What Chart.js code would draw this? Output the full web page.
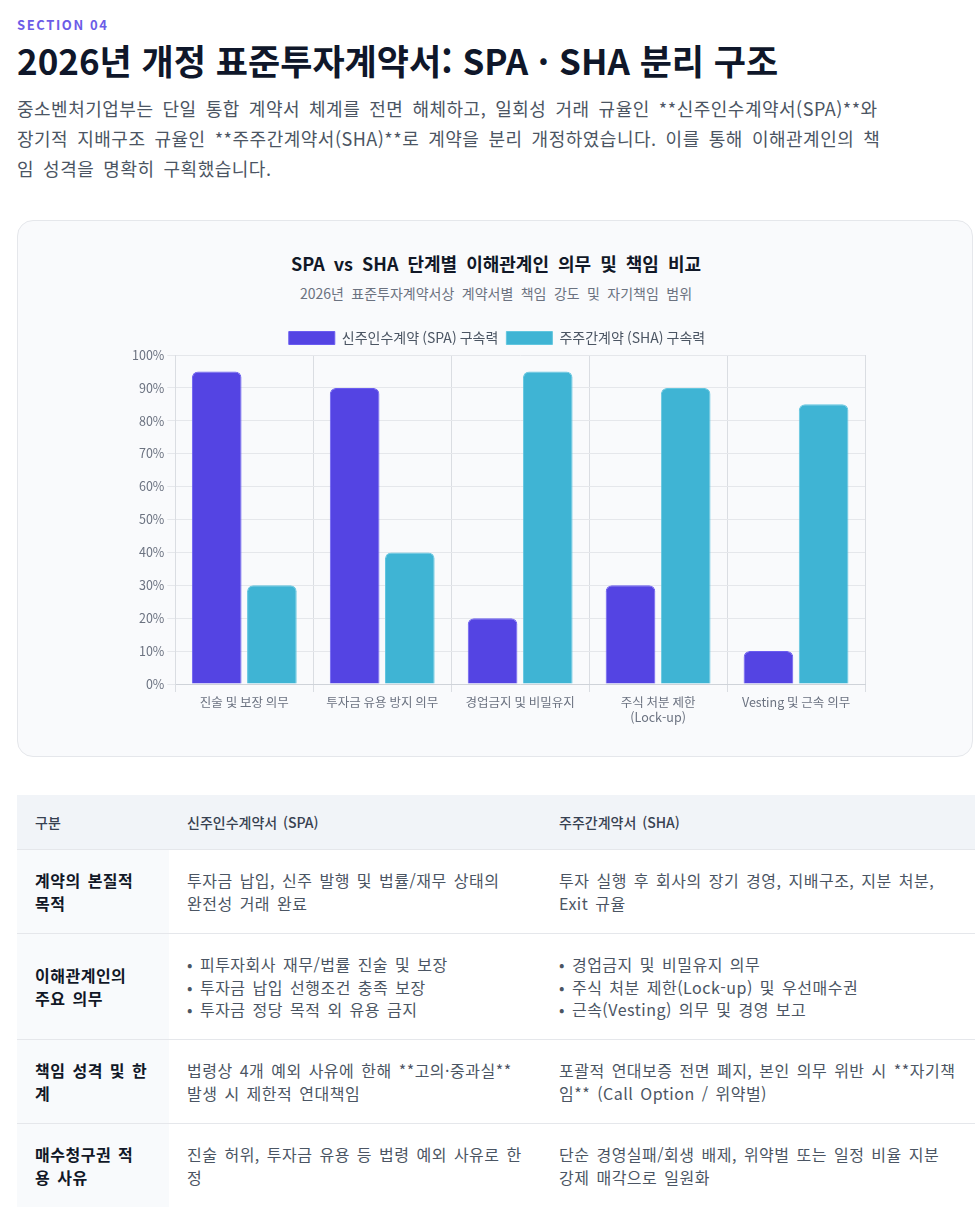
<!DOCTYPE html>
<html lang="ko">
<head>
<meta charset="utf-8">
<title>SPA · SHA 분리 구조</title>
<script src="https://cdn.jsdelivr.net/npm/chart.js@4.4.1/dist/chart.umd.min.js"></script>
<style>
  * { box-sizing: border-box; }
  html, body { overflow-x: hidden; }
  body { margin: 0; background: #fff; font-family: "Noto Sans CJK KR", "Noto Sans", sans-serif; color: #111827; }
  .wrap { padding-left: 17px; width: 975px; }
  .eyebrow { margin: 16px 0 0; font-size: 13px; font-weight: 700; letter-spacing: 1.6px; color: #6b5ce7; line-height: 18px; }
  h1 { margin: 5px 0 0; font-size: 35px; font-weight: 700; color: #0f172a; line-height: 42px; white-space: nowrap; }
  .lead { margin: 12px 0 0; font-size: 18px; line-height: 30px; color: #4b5563; letter-spacing: 0.5px; word-spacing: 3.5px; white-space: nowrap; }
  .card { margin-top: 37px; width: 956px; background: #f9fafc; border: 1px solid #e5e7eb; border-radius: 16px; padding: 31px 0 28px; }
  .chart-head { width: 742px; margin-left: 107px; text-align: center; }
  .chart-head h3 { margin: 0; font-size: 18px; line-height: 22px; font-weight: 700; color: #111827; word-spacing: 4px; }
  .chart-head p { margin: 10px 0 0; font-size: 14px; line-height: 18px; color: #6b7280; word-spacing: 3.5px; }
  .chart-box { position: relative; width: 742px; height: 405px; margin: 21px 0 0 107px; }
  table { margin-top: 38px; width: 958px; border-collapse: collapse; table-layout: fixed; font-size: 16px; line-height: 22.4px; letter-spacing: 0.5px; word-spacing: 2px; }
  th { background: #f1f4f8; text-align: left; font-weight: 500; font-size: 14px; color: #374151; padding: 16px 18px; letter-spacing: 0; }
  td { padding: 19px 18px; border-top: 1px solid #e5e7eb; color: #4b5563; vertical-align: middle; white-space: nowrap; }
  td:first-child { background: #f8fafc; font-weight: 700; color: #111827; }
  col.c1 { width: 152px; }
  col.c2 { width: 372px; }
</style>
</head>
<body>
<div class="wrap">
  <div class="eyebrow">SECTION 04</div>
  <h1>2026년 개정 표준투자계약서: SPA · SHA 분리 구조</h1>
  <p class="lead">중소벤처기업부는 단일 통합 계약서 체계를 전면 해체하고, 일회성 거래 규율인 **신주인수계약서(SPA)**와<br>장기적 지배구조 규율인 **주주간계약서(SHA)**로 계약을 분리 개정하였습니다. 이를 통해 이해관계인의 책<br>임 성격을 명확히 구획했습니다.</p>

  <div class="card">
    <div class="chart-head">
      <h3>SPA vs SHA 단계별 이해관계인 의무 및 책임 비교</h3>
      <p>2026년 표준투자계약서상 계약서별 책임 강도 및 자기책임 범위</p>
    </div>
    <div class="chart-box"><canvas id="dutyChart"></canvas></div>
  </div>

  <table>
    <colgroup><col class="c1"><col class="c2"><col></colgroup>
    <thead>
      <tr><th>구분</th><th>신주인수계약서 (SPA)</th><th>주주간계약서 (SHA)</th></tr>
    </thead>
    <tbody>
      <tr>
        <td>계약의 본질적<br>목적</td>
        <td>투자금 납입, 신주 발행 및 법률/재무 상태의<br>완전성 거래 완료</td>
        <td>투자 실행 후 회사의 장기 경영, 지배구조, 지분 처분,<br>Exit 규율</td>
      </tr>
      <tr>
        <td>이해관계인의<br>주요 의무</td>
        <td>• 피투자회사 재무/법률 진술 및 보장<br>• 투자금 납입 선행조건 충족 보장<br>• 투자금 정당 목적 외 유용 금지</td>
        <td>• 경업금지 및 비밀유지 의무<br>• 주식 처분 제한(Lock-up) 및 우선매수권<br>• 근속(Vesting) 의무 및 경영 보고</td>
      </tr>
      <tr>
        <td>책임 성격 및 한<br>계</td>
        <td>법령상 4개 예외 사유에 한해 **고의·중과실**<br>발생 시 제한적 연대책임</td>
        <td>포괄적 연대보증 전면 폐지, 본인 의무 위반 시 **자기책<br>임** (Call Option / 위약벌)</td>
      </tr>
      <tr>
        <td>매수청구권 적<br>용 사유</td>
        <td>진술 허위, 투자금 유용 등 법령 예외 사유로 한<br>정</td>
        <td>단순 경영실패/회생 배제, 위약벌 또는 일정 비율 지분<br>강제 매각으로 일원화</td>
      </tr>
    </tbody>
  </table>
</div>

<script>
const categories = ['진술 및 보장 의무', '투자금 유용 방지 의무', '경업금지 및 비밀유지', ['주식 처분 제한', '(Lock-up)'], 'Vesting 및 근속 의무'];
const spaValues = [95, 90, 20, 30, 10];
const shaValues = [30, 40, 95, 90, 85];
const seriesNames = ['신주인수계약 (SPA) 구속력', '주주간계약 (SHA) 구속력'];
const yTicks = [0, 10, 20, 30, 40, 50, 60, 70, 80, 90, 100];

Chart.defaults.font.family = '"Noto Sans CJK KR", "Noto Sans", sans-serif';
Chart.defaults.color = '#6b7280';

new Chart(document.getElementById('dutyChart'), {
  type: 'bar',
  data: {
    labels: categories,
    datasets: [
      { label: seriesNames[0], data: spaValues, backgroundColor: '#5444e3', borderColor: '#6a5cf0', borderWidth: 1, borderRadius: 6, borderSkipped: 'bottom' },
      { label: seriesNames[1], data: shaValues, backgroundColor: '#3fb4d4', borderColor: '#62c6df', borderWidth: 1, borderRadius: 6, borderSkipped: 'bottom' }
    ]
  },
  options: {
    responsive: true,
    maintainAspectRatio: false,
    animation: false,
    layout: { padding: { left: 4, right: 2 } },
    plugins: {
      legend: { labels: { boxWidth: 46, boxHeight: 13, font: { size: 14 }, color: '#4b5563', padding: 8 } },
      tooltip: { enabled: false }
    },
    scales: {
      x: { grid: { color: '#dadde2' }, border: { color: '#cfd3d9' }, ticks: { font: { size: 12.5 }, color: '#6b7280' } },
      y: {
        min: 0, max: 100,
        afterBuildTicks: axis => { axis.ticks = yTicks.map(v => ({ value: v })); },
        ticks: { callback: v => v + '%', font: { size: 12.5 }, color: '#6b7280' },
        grid: { color: '#e5e7eb' }, border: { color: '#dadde2' }
      }
    }
  }
});
</script>
</body>
</html>
